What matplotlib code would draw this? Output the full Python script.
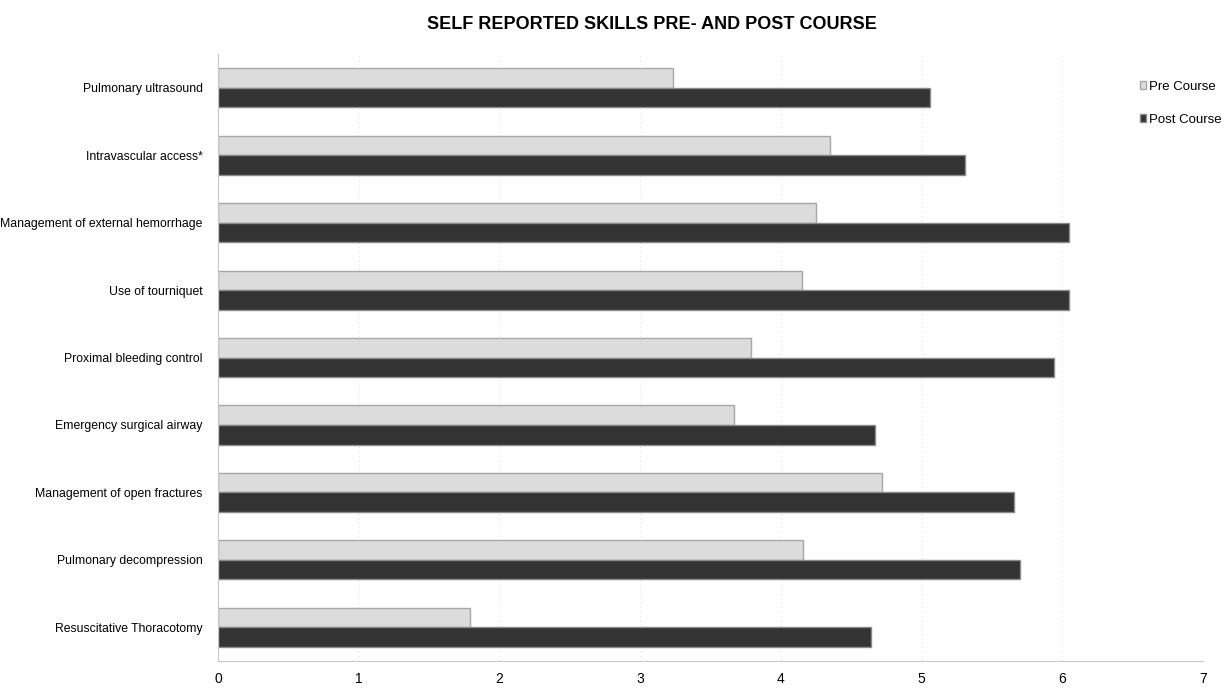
import numpy as np
import matplotlib.pyplot as plt
from matplotlib.patches import Patch

skills = ['Pulmonary ultrasound', 'Intravascular access*', 'Management of external hemorrhage',
          'Use of tourniquet', 'Proximal bleeding control', 'Emergency surgical airway',
          'Management of open fractures', 'Pulmonary decompression', 'Resuscitative Thoracotomy']
pre_course = [3.23, 4.35, 4.25, 4.15, 3.79, 3.67, 4.72, 4.16, 1.79]
post_course = [5.06, 5.31, 6.05, 6.05, 5.94, 4.67, 5.66, 5.70, 4.64]

plt.rcParams['font.family'] = ['Liberation Sans', 'DejaVu Sans']

fig = plt.figure(figsize=(12.32, 6.89), dpi=100)
ax = fig.add_axes([0.177, 0.0406, 0.7995, 0.881])

y = np.arange(len(skills))
h = 0.29
ax.barh(y - h/2, pre_course, height=h, color='#dcdcdc', edgecolor='#a8a8a8', linewidth=1)
ax.barh(y + h/2, post_course, height=h, color='#333333', edgecolor='#8a8a8a', linewidth=1)

ax.set_yticks(y)
ax.set_yticklabels(skills, fontsize=8.8)
ax.set_ylim(len(skills) - 0.5, -0.5)
ax.set_xlim(0, 7)
ax.set_xticks(range(8))
ax.tick_params(axis='both', length=0)
ax.tick_params(axis='y', pad=11)
ax.tick_params(axis='x', pad=8, labelsize=10)
ax.xaxis.grid(True, linestyle=(0, (1, 3)), color='#e0e0e0', linewidth=0.8)
ax.set_axisbelow(True)
for s in ['top', 'right']:
    ax.spines[s].set_visible(False)
for s in ['left', 'bottom']:
    ax.spines[s].set_color('#c8c8c8')

fig.text(0.529, 0.965, 'SELF REPORTED SKILLS PRE- AND POST COURSE', ha='center', va='center',
         fontsize=13, fontweight='bold')

handles = [Patch(facecolor='#dcdcdc', edgecolor='#a8a8a8', label='Pre Course'),
           Patch(facecolor='#333333', edgecolor='#8a8a8a', label='Post Course')]
fig.legend(handles=handles, loc='upper left', bbox_to_anchor=(0.925, 0.883), frameon=False,
           fontsize=9.5, handlelength=0.5, handleheight=0.5, handletextpad=0.2, labelspacing=1.6,
           borderaxespad=0, borderpad=0)

fig.savefig('out.png', dpi=100)
